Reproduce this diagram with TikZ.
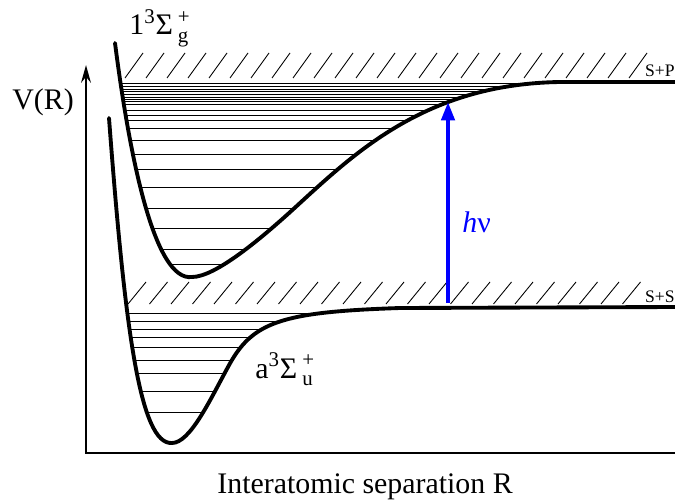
\documentclass[tikz,border=0pt]{standalone}
\usepackage{fontspec}
\usepackage{amsmath}
\setmainfont{Liberation Serif}
\usetikzlibrary{arrows.meta}

\tikzset{
  pot/.style={line width=2.2pt, line join=round, line cap=round},
  axisln/.style={line width=1.7pt},
  vib/.style={line width=0.55pt},
  hatchln/.style={line width=0.5pt},
  lbl/.style={inner sep=0pt, font=\fontsize{17}{20}\selectfont},
  asym/.style={inner sep=0pt, font=\fontsize{10}{12}\selectfont, anchor=base east},
}

\begin{document}
\begin{tikzpicture}[x=0.02cm, y=-0.02cm]
  \useasboundingbox (0,0) rectangle (675,503);
  %
  % potential curves (saved for the clipping below)
  \path[save path=\upcurve] (115,43) .. controls (130,160) and (155,282) .. (192,277)
      .. controls (215,277) and (260,240) .. (300,203)
      .. controls (360,148) and (430,84) .. (560,82) -- (675,82);
  \path[save path=\lowcurve] (109,118) .. controls (125,330) and (140,445) .. (172,443)
      .. controls (190,443) and (210,400) .. (228,367)
      .. controls (252,322) and (280,312) .. (400,308) -- (675,307);
  %
  % vibrational levels
  \begin{scope}
    \clip[use path=\upcurve];
    \foreach \y in {83,86,89,91,94,97,99,101,104,110,115,120,128,140,154,169,187,208,228,249,264}
      \draw[vib] (100,\y) -- (675,\y);
  \end{scope}
  \begin{scope}
    \clip[use path=\lowcurve];
    \foreach \y in {313,321,329,337,347,360,373,391,412}
      \draw[vib] (100,\y) -- (675,\y);
  \end{scope}
  %
  % continua
  \foreach \k in {0,...,24}
    \draw[hatchln] ({125+21*\k},78) -- ++(18,-25);
  \foreach \k in {0,...,23}
    \draw[hatchln] ({128+21.5*\k},304) -- ++(18,-22);
  %
  \draw[pot, use path=\upcurve];
  \draw[pot, use path=\lowcurve];
  %
  % axes
  \draw[axisln, -{Stealth[length=10pt,width=5.5pt]}] (675,453) -- (86,453) -- (86,65);
  \node[lbl, anchor=base west] (vr) at (12,110) {V(R)};
  \node[lbl, anchor=base] (sep) at (365,493) {Interatomic separation R};
  %
  \node[asym] (sp) at (675,77) {S+P};
  \node[asym] (ss) at (675,302) {S+S};
  \node[lbl, anchor=base west] (upname) at (129,35) {1\textsuperscript{3}Σ\,$^{\text{+}}_{\text{g}}$};
  \node[lbl, anchor=base west] (lowname) at (255,378) {a\textsuperscript{3}Σ\,$^{\text{+}}_{\text{u}}$};
  %
  % photon
  \coordinate (ground) at (448,303);
  \coordinate (excited) at (448,102);
  \draw[blue, line width=2.3pt, -{Triangle[length=10.5pt,width=7.5pt]}] (ground) -- (excited);
  \node[lbl, blue, anchor=base west] (hnu) at (462,232) {\textit{h}ν};
\end{tikzpicture}
\end{document}
